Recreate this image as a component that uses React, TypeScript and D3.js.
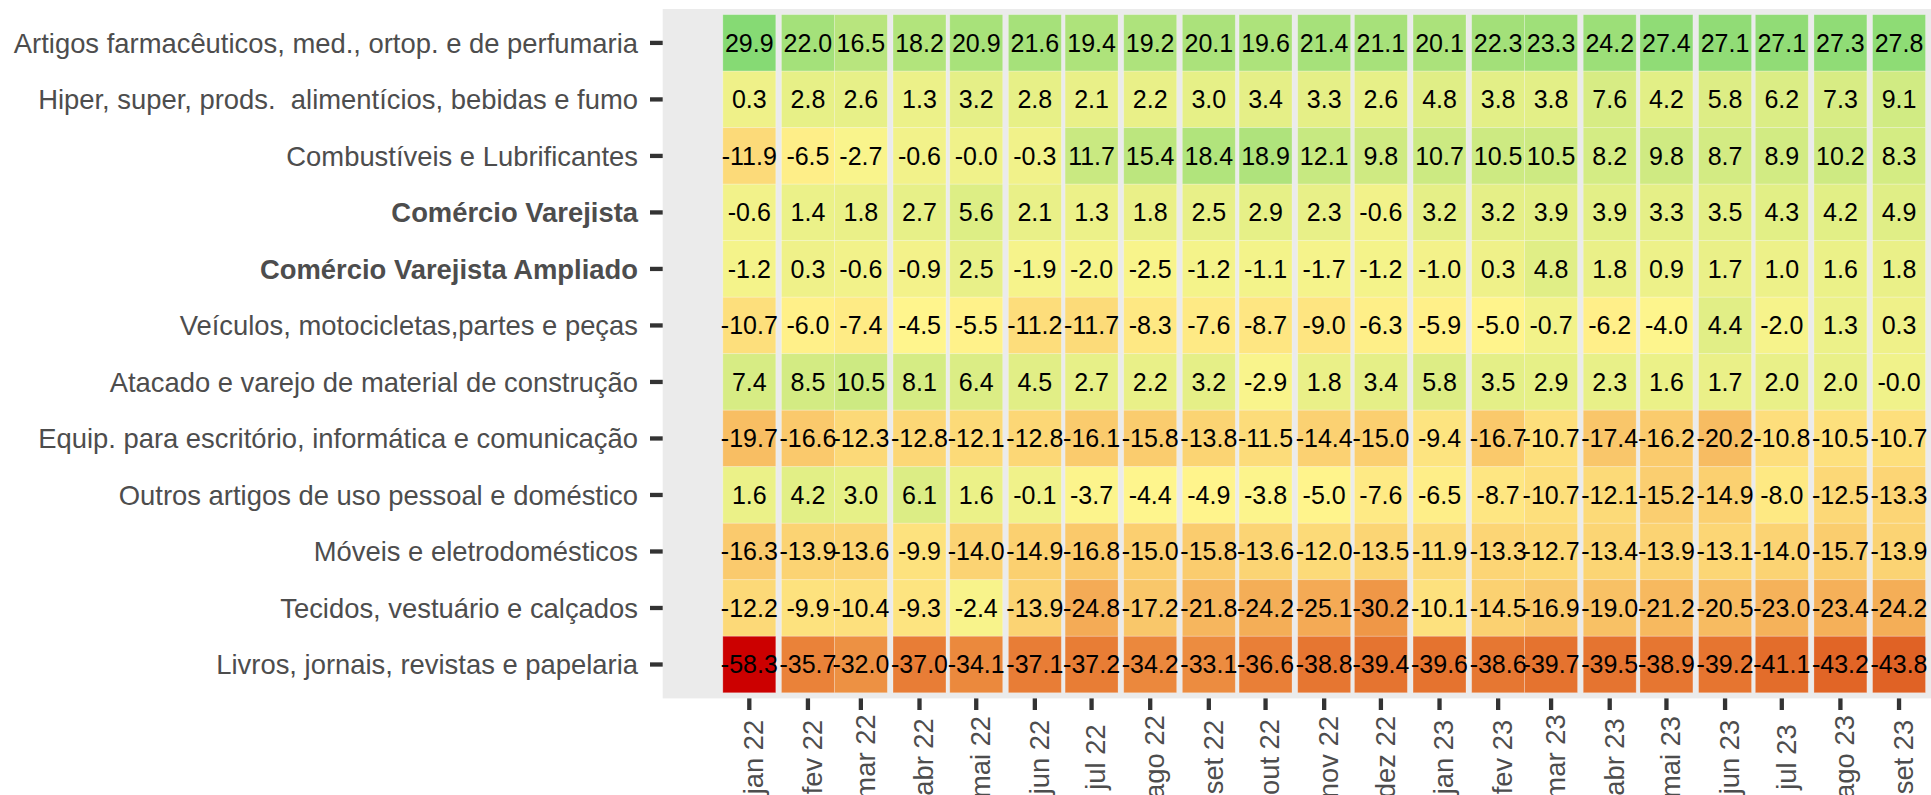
import React from "react";
import * as d3 from "d3";

// ---- data ----
const categories = [
  "Artigos farmacêuticos, med., ortop. e de perfumaria",
  "Hiper, super, prods.  alimentícios, bebidas e fumo",
  "Combustíveis e Lubrificantes",
  "Comércio Varejista",
  "Comércio Varejista Ampliado",
  "Veículos, motocicletas,partes e peças",
  "Atacado e varejo de material de construção",
  "Equip. para escritório, informática e comunicação",
  "Outros artigos de uso pessoal e doméstico",
  "Móveis e eletrodomésticos",
  "Tecidos, vestuário e calçados",
  "Livros, jornais, revistas e papelaria",
];
const boldCategories = ["Comércio Varejista", "Comércio Varejista Ampliado"];

const months = [
  "2022-01", "2022-02", "2022-03", "2022-04", "2022-05", "2022-06", "2022-07",
  "2022-08", "2022-09", "2022-10", "2022-11", "2022-12", "2023-01", "2023-02",
  "2023-03", "2023-04", "2023-05", "2023-06", "2023-07", "2023-08", "2023-09",
];
const monthLabels = [
  "jan 22", "fev 22", "mar 22", "abr 22", "mai 22", "jun 22", "jul 22",
  "ago 22", "set 22", "out 22", "nov 22", "dez 22", "jan 23", "fev 23",
  "mar 23", "abr 23", "mai 23", "jun 23", "jul 23", "ago 23", "set 23",
];

const farmaceuticos = [29.9, 22.0, 16.5, 18.2, 20.9, 21.6, 19.4, 19.2, 20.1, 19.6, 21.4, 21.1, 20.1, 22.3, 23.3, 24.2, 27.4, 27.1, 27.1, 27.3, 27.8];
const hiper = [0.3, 2.8, 2.6, 1.3, 3.2, 2.8, 2.1, 2.2, 3.0, 3.4, 3.3, 2.6, 4.8, 3.8, 3.8, 7.6, 4.2, 5.8, 6.2, 7.3, 9.1];
const combustiveis = [-11.9, -6.5, -2.7, -0.6, -0.0, -0.3, 11.7, 15.4, 18.4, 18.9, 12.1, 9.8, 10.7, 10.5, 10.5, 8.2, 9.8, 8.7, 8.9, 10.2, 8.3];
const varejista = [-0.6, 1.4, 1.8, 2.7, 5.6, 2.1, 1.3, 1.8, 2.5, 2.9, 2.3, -0.6, 3.2, 3.2, 3.9, 3.9, 3.3, 3.5, 4.3, 4.2, 4.9];
const ampliado = [-1.2, 0.3, -0.6, -0.9, 2.5, -1.9, -2.0, -2.5, -1.2, -1.1, -1.7, -1.2, -1.0, 0.3, 4.8, 1.8, 0.9, 1.7, 1.0, 1.6, 1.8];
const veiculos = [-10.7, -6.0, -7.4, -4.5, -5.5, -11.2, -11.7, -8.3, -7.6, -8.7, -9.0, -6.3, -5.9, -5.0, -0.7, -6.2, -4.0, 4.4, -2.0, 1.3, 0.3];
const construcao = [7.4, 8.5, 10.5, 8.1, 6.4, 4.5, 2.7, 2.2, 3.2, -2.9, 1.8, 3.4, 5.8, 3.5, 2.9, 2.3, 1.6, 1.7, 2.0, 2.0, -0.0];
const informatica = [-19.7, -16.6, -12.3, -12.8, -12.1, -12.8, -16.1, -15.8, -13.8, -11.5, -14.4, -15.0, -9.4, -16.7, -10.7, -17.4, -16.2, -20.2, -10.8, -10.5, -10.7];
const outros = [1.6, 4.2, 3.0, 6.1, 1.6, -0.1, -3.7, -4.4, -4.9, -3.8, -5.0, -7.6, -6.5, -8.7, -10.7, -12.1, -15.2, -14.9, -8.0, -12.5, -13.3];
const moveis = [-16.3, -13.9, -13.6, -9.9, -14.0, -14.9, -16.8, -15.0, -15.8, -13.6, -12.0, -13.5, -11.9, -13.3, -12.7, -13.4, -13.9, -13.1, -14.0, -15.7, -13.9];
const tecidos = [-12.2, -9.9, -10.4, -9.3, -2.4, -13.9, -24.8, -17.2, -21.8, -24.2, -25.1, -30.2, -10.1, -14.5, -16.9, -19.0, -21.2, -20.5, -23.0, -23.4, -24.2];
const livros = [-58.3, -35.7, -32.0, -37.0, -34.1, -37.1, -37.2, -34.2, -33.1, -36.6, -38.8, -39.4, -39.6, -38.6, -39.7, -39.5, -38.9, -39.2, -41.1, -43.2, -43.8];

const seriesValues = [
  farmaceuticos, hiper, combustiveis, varejista, ampliado, veiculos,
  construcao, informatica, outros, moveis, tecidos, livros,
];

// ---- layout / style ----
const W = 1931;
const H = 795;
const panelLeft = 662.7;
const panelTop = 9;
const panelBottom = 698.4;
const pxPerDay = 1.891;
const DAY = 86400000;
const FONT = "'Liberation Sans', Arial, Helvetica, sans-serif";
const AXIS_COL = "#4D4D4D";
const TICK_COL = "#333333";
const LOW = "#CC0000";
const MID = "#FFF58D";
const TOP_COL = "#86DA74";
const AXIS_FS = 27.4;

const fmt = (v: number) =>
  (v < 0 || Object.is(v, -0) ? "-" : "") + Math.abs(v).toFixed(1);

export default function App() {
  const parse = d3.utcParse("%Y-%m");
  const dates = months.map((m) => parse(m) as Date);

  const halfW = 14 * DAY;
  const d0 = dates[0].getTime() - halfW;
  const d1 = dates[dates.length - 1].getTime() + halfW;
  const exp = (d1 - d0) * 0.05;
  const dom0 = d0 - exp;
  const dom1 = d1 + exp;
  const totalDays = (dom1 - dom0) / DAY;

  const x = d3
    .scaleUtc()
    .domain([new Date(dom0), new Date(dom1)])
    .range([panelLeft, panelLeft + totalDays * pxPerDay]);

  const y = d3
    .scaleBand<string>()
    .domain(categories)
    .range([panelTop, panelBottom])
    .paddingInner(0)
    .paddingOuter(0.1);

  const all = seriesValues.flat();
  const mid = d3.mean(all) as number;
  const color = d3
    .scaleLinear<string>()
    .domain([d3.min(all) as number, mid, d3.max(all) as number])
    .range([LOW, MID, TOP_COL])
    .interpolate(d3.interpolateLab);

  const cells = categories.flatMap((cat, i) =>
    dates.map((d, j) => ({ cat, date: d, value: seriesValues[i][j], key: `${i}-${j}` }))
  );

  const bw = y.bandwidth();

  return (
    <>
      <style>{`body{margin:0;background:#fff}`}</style>
      <svg width={W} height={H} style={{ display: "block" }} fontFamily={FONT}>
        <rect
          x={panelLeft}
          y={panelTop}
          width={W - panelLeft + 100}
          height={panelBottom - panelTop}
          fill="#EBEBEB"
        />
        <g>
          {cells.map((c) => {
            const xl = x(new Date(c.date.getTime() - halfW));
            const xr = x(new Date(c.date.getTime() + halfW));
            return (
              <rect
                key={c.key}
                x={xl}
                y={y(c.cat)}
                width={xr - xl}
                height={bw}
                fill={color(c.value)}
                stroke="#ffffff"
                strokeOpacity={0.3}
                strokeWidth={0.8}
              />
            );
          })}
        </g>
        <g>
          {cells.map((c) => (
            <text
              key={c.key}
              x={x(c.date)}
              y={(y(c.cat) as number) + bw / 2}
              dy="0.36em"
              textAnchor="middle"
              fontSize={25}
              fill="#000"
            >
              {fmt(c.value)}
            </text>
          ))}
        </g>
        {/* y axis */}
        <g>
          {categories.map((cat) => {
            const cy = (y(cat) as number) + bw / 2;
            return (
              <g key={cat}>
                <line x1={650} x2={panelLeft} y1={cy} y2={cy} stroke={TICK_COL} strokeWidth={4.3} />
                <text
                  x={638}
                  y={cy}
                  dy="0.36em"
                  textAnchor="end"
                  fontSize={AXIS_FS}
                  fill={AXIS_COL}
                  fontWeight={boldCategories.includes(cat) ? "bold" : "normal"}
                  style={{ whiteSpace: "pre" }}
                >
                  {cat}
                </text>
              </g>
            );
          })}
        </g>
        {/* x axis */}
        <g>
          {dates.map((d, j) => {
            const cx = x(d);
            return (
              <g key={months[j]}>
                <line x1={cx} x2={cx} y1={panelBottom} y2={710} stroke={TICK_COL} strokeWidth={4.3} />
                <text
                  transform={`translate(${cx},757) rotate(-90)`}
                  dy={0.36 * AXIS_FS + 4}
                  textAnchor="middle"
                  fontSize={AXIS_FS}
                  fill={AXIS_COL}
                >
                  {monthLabels[j]}
                </text>
              </g>
            );
          })}
        </g>
      </svg>
    </>
  );
}
